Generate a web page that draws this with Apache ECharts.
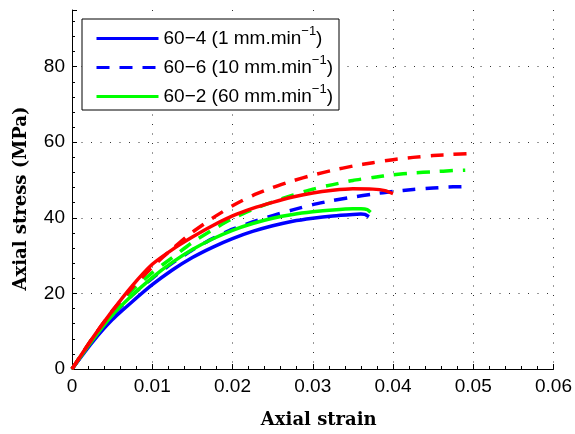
<!DOCTYPE html>
<html>
<head>
<meta charset="utf-8">
<script src="https://cdn.jsdelivr.net/npm/echarts@6/dist/echarts.min.js"></script>
<style>html,body{margin:0;padding:0;background:#fff}#c{width:575px;height:434px}</style>
</head>
<body>
<div id="c"></div>
<script>
// ---- data ----
const xTicks = [0, 0.01, 0.02, 0.03, 0.04, 0.05, 0.06];
const yTicks = [0, 20, 40, 60, 80];

const legendNames = ['60−4', '60−6', '60−2'];
const legendRates = ['1', '10', '60'];

const strainBlueSolid = [0, 0.0025, 0.005, 0.0075, 0.01, 0.0125, 0.015, 0.0175, 0.02, 0.0225, 0.025, 0.0275, 0.03, 0.0325, 0.035, 0.036, 0.0365, 0.037];
const stressBlueSolid = [0, 7, 13, 17.8, 22.3, 26.2, 29.5, 32.2, 34.5, 36.4, 37.9, 39.1, 39.9, 40.5, 40.9, 41, 40.9, 40.3];

const strainBlueDashed = [0, 0.0025, 0.005, 0.0075, 0.01, 0.0125, 0.015, 0.0175, 0.02, 0.0225, 0.025, 0.0275, 0.03, 0.0325, 0.035, 0.0375, 0.04, 0.0425, 0.045, 0.0475, 0.0495];
const stressBlueDashed = [0, 7.5, 14, 19.5, 24, 28, 31.5, 34.5, 37, 38.9, 40.6, 42.1, 43.5, 44.6, 45.5, 46.3, 47, 47.5, 47.9, 48.2, 48.3];

const strainGreenSolid = [0, 0.0025, 0.005, 0.0075, 0.01, 0.0125, 0.015, 0.0175, 0.02, 0.0225, 0.025, 0.0275, 0.03, 0.0325, 0.035, 0.036, 0.0368, 0.0372];
const stressGreenSolid = [0, 7.5, 14.2, 19.5, 24.2, 28.2, 31.6, 34.4, 36.7, 38.5, 39.9, 40.9, 41.6, 42.1, 42.4, 42.4, 42.2, 41.5];

const strainGreenDashed = [0, 0.0025, 0.005, 0.0075, 0.01, 0.0125, 0.015, 0.0175, 0.02, 0.0225, 0.025, 0.0275, 0.03, 0.0325, 0.035, 0.0375, 0.04, 0.0425, 0.045, 0.0475, 0.049];
const stressGreenDashed = [0, 8, 15, 20.8, 25.5, 29.5, 33.5, 36.8, 39.8, 42.2, 44.2, 46, 47.6, 48.8, 49.9, 50.7, 51.4, 51.9, 52.2, 52.5, 52.6];

const strainRedSolid = [0, 0.0025, 0.005, 0.0075, 0.01, 0.0125, 0.015, 0.0175, 0.02, 0.0225, 0.025, 0.0275, 0.03, 0.0325, 0.035, 0.0375, 0.039, 0.04];
const stressRedSolid = [0, 8, 15.3, 22, 27.7, 31.6, 34.9, 37.9, 40.5, 42.5, 44.1, 45.5, 46.6, 47.3, 47.7, 47.6, 47.2, 46.4];

const strainRedDashed = [0, 0.0025, 0.005, 0.0075, 0.01, 0.0125, 0.015, 0.0175, 0.02, 0.0225, 0.025, 0.0275, 0.03, 0.0325, 0.035, 0.0375, 0.04, 0.0425, 0.045, 0.0475, 0.0494];
const stressRedDashed = [0, 8, 15.3, 21.5, 27, 31.8, 36.2, 39.9, 43.2, 45.9, 48, 49.8, 51.3, 52.6, 53.7, 54.6, 55.4, 56, 56.5, 56.8, 57];

// ---- chart ----
const pair = (xs, ys) => xs.map((x, i) => [x, ys[i]]);
const DASH = [13, 10];

function mk(name, xs, ys, color, dashed) {
  return {
    name: name,
    type: 'line',
    data: pair(xs, ys),
    symbol: 'none',
    smooth: 0.2,
    lineStyle: { color: color, width: 3.5, type: dashed ? DASH : 'solid' },
    itemStyle: { color: color }
  };
}

const sans = 'Liberation Sans, Arial, Helvetica, sans-serif';
const serif = 'DejaVu Serif, serif';

const chart = echarts.init(document.getElementById('c'), null, { renderer: 'canvas' });
chart.setOption({
  animation: false,
  backgroundColor: '#fff',
  grid: { left: 72, right: 19, top: 10, bottom: 63, containLabel: false },
  legend: {
    data: legendNames,
    orient: 'vertical',
    left: 82,
    top: 19,
    width: 257,
    backgroundColor: '#fff',
    borderColor: '#000',
    borderWidth: 1,
    borderRadius: 0,
    padding: [6, 6, 4, 13],
    itemWidth: 62,
    itemHeight: 14,
    itemGap: 6,
    itemStyle: { opacity: 0 },
    lineStyle: { width: 3 },
    textStyle: {
      color: '#000', fontFamily: sans, fontSize: 19,
      rich: {
        sup: { fontFamily: sans, fontSize: 13, color: '#000', padding: [0, 0, 14, 0] }
      }
    },
    formatter: function (name) {
      const i = legendNames.indexOf(name);
      return name + ' (' + legendRates[i] + ' mm.min{sup|−1})';
    }
  },
  xAxis: {
    type: 'value',
    min: xTicks[0],
    max: xTicks[xTicks.length - 1],
    interval: 0.01,
    name: 'Axial strain',
    nameLocation: 'middle',
    nameGap: 42,
    nameTextStyle: { fontFamily: serif, fontWeight: 'bold', fontSize: 18, color: '#000', padding: [0, 0, 0, 12] },
    axisLine: { show: true, lineStyle: { color: '#000', width: 1 } },
    axisTick: { show: true, inside: true, length: 5, lineStyle: { color: '#000' } },
    minorTick: { show: true, splitNumber: 5, length: 3, lineStyle: { color: '#000' } },
    axisLabel: {
      color: '#000', fontFamily: sans, fontSize: 19, margin: 8,
      formatter: v => (v === 0 ? '0' : v.toFixed(2))
    },
    splitLine: { show: true, showMinLine: false, lineStyle: { color: '#333', width: 1, type: [1, 8.5] } }
  },
  yAxis: {
    type: 'value',
    min: 0,
    max: 95,
    interval: 20,
    name: 'Axial stress (MPa)',
    nameLocation: 'middle',
    nameRotate: 90,
    nameGap: 42,
    nameTextStyle: { fontFamily: serif, fontWeight: 'bold', fontSize: 18, color: '#000', padding: [0, 18, 0, 0] },
    axisLine: { show: true, lineStyle: { color: '#000', width: 1 } },
    axisTick: { show: true, inside: true, length: 5, lineStyle: { color: '#000' } },
    minorTick: { show: true, splitNumber: 5, length: 3, lineStyle: { color: '#000' } },
    axisLabel: {
      color: '#000', fontFamily: sans, fontSize: 19, margin: 7, showMaxLabel: false,
      formatter: v => (yTicks.indexOf(v) >= 0 ? String(v) : '')
    },
    splitLine: { show: true, showMinLine: false, showMaxLine: false, lineStyle: { color: '#333', width: 1, type: [1, 8.5] } }
  },
  series: [
    mk('60−4', strainBlueSolid, stressBlueSolid, '#0000ff', false),
    mk('60−6', strainBlueDashed, stressBlueDashed, '#0000ff', true),
    mk('60−2', strainGreenSolid, stressGreenSolid, '#00ff00', false),
    mk('Green dashed', strainGreenDashed, stressGreenDashed, '#00ff00', true),
    mk('Red solid', strainRedSolid, stressRedSolid, '#ff0000', false),
    mk('Red dashed', strainRedDashed, stressRedDashed, '#ff0000', true)
  ]
});
</script>
</body>
</html>
